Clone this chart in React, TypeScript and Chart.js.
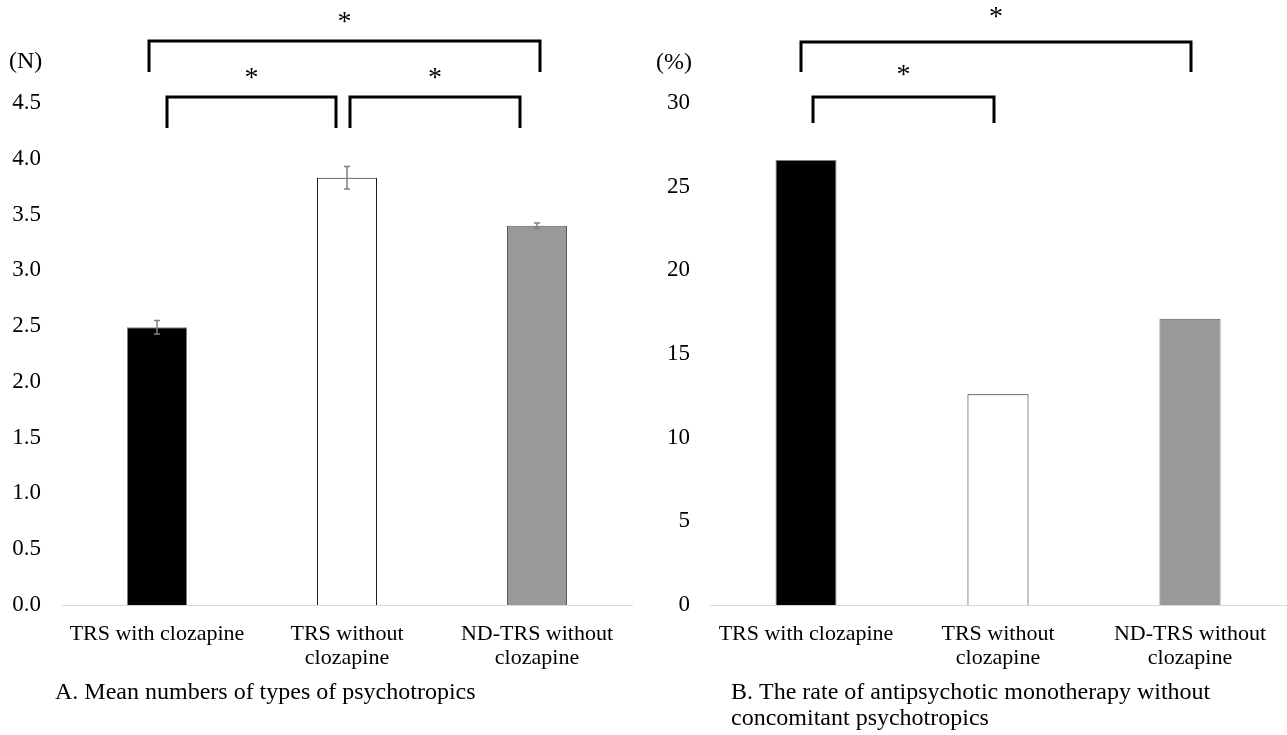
import React, { useEffect, useRef } from "react";
import { Chart, registerables } from "chart.js";

Chart.register(...registerables);

// ---- data ----
const categories: (string | string[])[] = [
  "TRS with clozapine",
  ["TRS without", "clozapine"],
  ["ND-TRS without", "clozapine"],
];
const meanTypes = [2.49, 3.83, 3.4];
const meanTypesSE = [0.06, 0.1, 0.025];
const monoRate = [26.6, 12.6, 17.1];
const barColors = ["#000000", "#ffffff", "#999999"];
const barBorders = ["#7f7f7f", "#1a1a1a", "#595959"];

const captionA = ["A. Mean numbers of types of psychotropics"];
const captionB = [
  "B. The rate of antipsychotic monotherapy without",
  "concomitant psychotropics",
];

const FONT = "'Liberation Serif', 'Times New Roman', serif";
const FS = 22;
const FS_Y = 23;
const FS_CAP = 24;
const FS_STAR = 28;

type Bracket = {
  from: number;
  to: number;
  dxFrom: number;
  dxTo: number;
  top: number;
  bottom: number;
  star: number;
};

const annotPlugin = {
  id: "annot",
  afterDraw(chart: any, _args: any, opts: any) {
    const ctx = chart.ctx;
    const x = chart.scales.x;
    const y = chart.scales.y;
    ctx.save();
    // error bars
    if (opts.errors) {
      const meta = chart.getDatasetMeta(0);
      const vals = chart.data.datasets[0].data;
      ctx.strokeStyle = "#808080";
      ctx.lineWidth = 1.5;
      meta.data.forEach((bar: any, i: number) => {
        const e = opts.errors[i];
        const yt = y.getPixelForValue(vals[i] + e);
        const yb = y.getPixelForValue(vals[i] - e);
        ctx.beginPath();
        ctx.moveTo(bar.x, yt);
        ctx.lineTo(bar.x, yb);
        ctx.moveTo(bar.x - 3, yt);
        ctx.lineTo(bar.x + 3, yt);
        ctx.moveTo(bar.x - 3, yb);
        ctx.lineTo(bar.x + 3, yb);
        ctx.stroke();
      });
    }
    // brackets
    ctx.strokeStyle = "#000";
    ctx.lineWidth = 3;
    ctx.fillStyle = "#000";
    ctx.font = `${FS_STAR}px ${FONT}`;
    ctx.textAlign = "center";
    ctx.textBaseline = "alphabetic";
    (opts.brackets as Bracket[]).forEach((b) => {
      const x1 = x.getPixelForValue(b.from) + b.dxFrom;
      const x2 = x.getPixelForValue(b.to) + b.dxTo;
      const yt = y.getPixelForValue(b.top);
      const yb = y.getPixelForValue(b.bottom);
      ctx.beginPath();
      ctx.moveTo(x1, yb);
      ctx.lineTo(x1, yt);
      ctx.lineTo(x2, yt);
      ctx.lineTo(x2, yb);
      ctx.stroke();
      ctx.fillText("*", (x1 + x2) / 2, y.getPixelForValue(b.star));
    });
    // unit label
    ctx.font = `${FS_CAP}px ${FONT}`;
    ctx.textAlign = "left";
    ctx.textBaseline = "middle";
    ctx.fillText(opts.unit, opts.unitX, opts.unitY);
    // caption
    (opts.caption as string[]).forEach((line, i) => {
      ctx.fillText(line, opts.capX, opts.capY + i * 26);
    });
    ctx.restore();
  },
};

function makeConfig(
  values: number[],
  max: number,
  step: number,
  decimals: number,
  yWidth: number,
  tickPad: number,
  padRight: number,
  barPct: number,
  annot: any
): any {
  return {
    type: "bar",
    data: {
      labels: categories,
      datasets: [
        {
          data: values,
          backgroundColor: barColors,
          borderColor: barBorders,
          borderWidth: 1,
          categoryPercentage: 1,
          barPercentage: barPct,
        },
      ],
    },
    options: {
      animation: false,
      responsive: true,
      maintainAspectRatio: false,
      layout: { padding: { top: 103, right: padRight, left: 0, bottom: 0 } },
      plugins: {
        legend: { display: false },
        tooltip: { enabled: false },
        annot,
      },
      scales: {
        x: {
          grid: { display: false, drawTicks: false },
          border: { display: true, color: "#d9d9d9", width: 1 },
          ticks: {
            color: "#000",
            padding: 17,
            maxRotation: 0,
            autoSkip: false,
            font: { family: FONT, size: FS, lineHeight: 1.1 },
          },
          afterFit: (s: any) => {
            s.height = 130;
          },
        },
        y: {
          min: 0,
          max,
          grid: { display: false, drawTicks: false },
          border: { display: false },
          ticks: {
            stepSize: step,
            color: "#000",
            padding: tickPad,
            font: { family: FONT, size: FS_Y },
            callback: (v: any) => Number(v).toFixed(decimals),
          },
          afterFit: (s: any) => {
            s.width = yWidth;
          },
        },
      },
    },
    plugins: [annotPlugin],
  };
}

const bracketsA: Bracket[] = [
  { from: 0, to: 2, dxFrom: -8, dxTo: 3, top: 5.056, bottom: 4.778, star: 5.154 },
  { from: 0, to: 1, dxFrom: 10, dxTo: -11, top: 4.554, bottom: 4.276, star: 4.652 },
  { from: 1, to: 2, dxFrom: 3, dxTo: -17, top: 4.554, bottom: 4.276, star: 4.652 },
];
const bracketsB: Bracket[] = [
  { from: 0, to: 2, dxFrom: -5, dxTo: 1, top: 33.65, bottom: 31.85, star: 34.66 },
  { from: 0, to: 1, dxFrom: 7, dxTo: -4, top: 30.36, bottom: 28.8, star: 31.19 },
];

function ChartBox({ config, style }: { config: any; style: React.CSSProperties }) {
  const ref = useRef<HTMLCanvasElement | null>(null);
  useEffect(() => {
    if (!ref.current) return;
    const c = new Chart(ref.current, config);
    return () => c.destroy();
  }, [config]);
  return (
    <div style={{ position: "absolute", top: 0, height: 735, ...style }}>
      <canvas ref={ref} />
    </div>
  );
}

const configA = makeConfig(meanTypes, 4.5, 0.5, 1, 62, 21, 8, 0.316, {
  errors: meanTypesSE,
  brackets: bracketsA,
  unit: "(N)",
  unitX: 9,
  unitY: 62,
  caption: captionA,
  capX: 55,
  capY: 693,
});
const configB = makeConfig(monoRate, 30, 5, 0, 70, 20, 1, 0.318, {
  errors: null,
  brackets: bracketsB,
  unit: "(%)",
  unitX: 16,
  unitY: 63,
  caption: captionB,
  capX: 91,
  capY: 693,
});

export default function App() {
  return (
    <div
      style={{
        position: "fixed",
        left: 0,
        top: 0,
        width: 1287,
        height: 735,
        background: "#fff",
        overflow: "hidden",
      }}
    >
      <ChartBox config={configA} style={{ left: 0, width: 640 }} />
      <ChartBox config={configB} style={{ left: 640, width: 647 }} />
    </div>
  );
}
